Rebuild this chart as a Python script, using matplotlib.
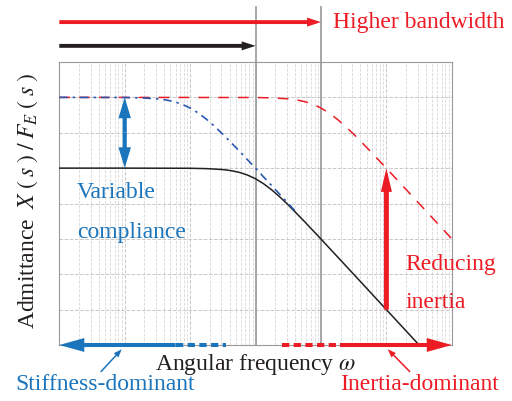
import numpy as np
import matplotlib
matplotlib.use("Agg")
import matplotlib.pyplot as plt

plt.rcParams['font.family'] = ['Liberation Serif', 'DejaVu Serif']
plt.rcParams['mathtext.fontset'] = 'stix'

# ---- data (log10 values) ----
# original system (black)
w_orig = [0, 1, 2, 2.25, 2.5, 2.625, 2.75, 2.875, 3, 3.125, 3.25, 3.375, 3.5, 3.75, 4,
          4.5, 5, 5.5, 5.75]
mag_orig = [-3, -3, -3.004, -3.014, -3.041, -3.071, -3.119, -3.194, -3.301, -3.444, -3.619,
            -3.821, -4.041, -4.513, -5.004, -6.0, -7.0, -8.0, -8.5]
# variable compliance (blue dash-dot)
w_comp = [0, 1, 1.25, 1.5, 1.625, 1.75, 1.875, 2, 2.125, 2.25, 2.375, 2.5, 2.75, 3, 3.25,
          3.5, 3.62]
mag_comp = [-1, -1.004, -1.014, -1.041, -1.071, -1.119, -1.194, -1.301, -1.444, -1.619,
            -1.821, -2.041, -2.513, -3.004, -3.501, -4.0, -4.24]
# reduced inertia (red dashed)
w_inert = [0, 3, 3.25, 3.5, 3.625, 3.75, 3.875, 4, 4.125, 4.25, 4.375, 4.5, 4.75, 5, 5.5, 6]
mag_inert = [-1, -1.004, -1.014, -1.041, -1.071, -1.119, -1.194, -1.301, -1.444,
             -1.619, -1.821, -2.041, -2.513, -3.004, -4.0, -5.0]

bw_orig = 1e3      # bandwidth of original system
bw_high = 1e4      # higher bandwidth
w_arrow_comp = 1e1 # where the compliance arrow sits
w_arrow_inert = 1e5
stiff_dash = [60, 350]     # dashed part of stiffness arrow
inert_dash = [2500, 19500] # dashed part of inertia arrow

RED = '#ed1c24'
BLUE = '#1b75bc'
CURVE_BLUE = '#2a58b0'
GRAY = '#a0a0a0'
BLACK = '#231f20'

fig = plt.figure(figsize=(5.12, 4.01), dpi=100)
ax = fig.add_axes([59.3/512, 1-345/401, 392.5/512, 283/401])
ax.set_xscale('log')
ax.set_yscale('log')
ax.set_xlim(1e0, 1e6)
ax.set_ylim(1e-8, 1e0)

ax.grid(True, which='major', ls='--', color='#c8c8c8', lw=0.7)
ax.grid(True, which='minor', axis='x', ls='--', color='#d8d8d8', lw=0.6)
ax.tick_params(which='both', length=0, labelbottom=False, labelleft=False)
for s in ax.spines.values():
    s.set_color('#999999')
    s.set_linewidth(0.8)

# curves
ax.plot(10**np.array(w_inert), 10**np.array(mag_inert), color=RED, lw=1.1,
        dashes=(7, 6), zorder=3)
ax.plot(10**np.array(w_orig), 10**np.array(mag_orig), color=BLACK, lw=1.1, zorder=3)
ax.plot(10**np.array(w_comp), 10**np.array(mag_comp), color=CURVE_BLUE, lw=1.2,
        dashes=(5, 3, 1.5, 3), zorder=4)

xt = ax.get_xaxis_transform()


def arrow(p0, p1, color, hl, hw, tw, coords='data', z=6):
    # filled arrow from p0 to p1, sizes in points
    ax.annotate('', xy=p1, xytext=p0, xycoords=coords, textcoords=coords,
                arrowprops=dict(arrowstyle='simple,head_length=%g,head_width=%g,tail_width=%g'
                                % (hl, hw, tw), mutation_scale=1, color=color, lw=0,
                                shrinkA=0, shrinkB=0),
                annotation_clip=False, zorder=z)


# bandwidth markers (extend above the axes)
for w in [bw_orig, bw_high]:
    ax.plot([w, w], [0, 1.194], transform=xt, color=GRAY, lw=1.3, clip_on=False, zorder=2)

# top arrows
arrow((1, 1.141), (bw_high, 1.141), RED, 10, 6.5, 2.8, coords=xt)
arrow((1, 1.057), (bw_orig, 1.057), BLACK, 10, 6.5, 2.8, coords=xt)
ax.text(0.697, 1.141, 'Higher bandwidth', transform=ax.transAxes, color=RED,
        fontsize=17, ha='left', va='center')

# variable compliance arrow (two heads)
mid = 10**((mag_orig[0] + mag_comp[0]) / 2)
arrow((w_arrow_comp, mid), (w_arrow_comp, 10**mag_comp[0]), BLUE, 15, 9, 3)
arrow((w_arrow_comp, mid), (w_arrow_comp, 10**mag_orig[0]), BLUE, 15, 9, 3)
ax.text(0.045, 0.518, 'Variable', transform=ax.transAxes, color=BLUE, fontsize=17,
        ha='left', va='baseline')
ax.text(0.045, 0.377, 'compliance', transform=ax.transAxes, color=BLUE, fontsize=17,
        ha='left', va='baseline')

# reducing inertia arrow
arrow((w_arrow_inert, 1e-7), (w_arrow_inert, 10**mag_inert[-3]), RED, 17, 8, 3.6)
ax.text(0.881, 0.265, 'Reducing', transform=ax.transAxes, color=RED, fontsize=17,
        ha='left', va='baseline')
ax.text(0.883, 0.131, 'inertia', transform=ax.transAxes, color=RED, fontsize=17,
        ha='left', va='baseline')

# bottom arrows
arrow((stiff_dash[0], 0), (1, 0), BLUE, 18, 10, 2.9, coords=xt, z=7)
ax.plot(stiff_dash, [0, 0], transform=xt, color=BLUE, lw=2.9, dashes=(1.8, 1.1),
        solid_capstyle='butt', clip_on=False, zorder=6)
arrow((inert_dash[1], 0), (1e6, 0), RED, 18, 10, 2.9, coords=xt, z=7)
ax.plot(inert_dash, [0, 0], transform=xt, color=RED, lw=2.9, dashes=(1.8, 1.1),
        solid_capstyle='butt', clip_on=False, zorder=6)

# pointer arrows + labels
arrow((4.3, -0.095), (9, -0.015), BLUE, 6, 4.5, 1.1, coords=xt)
arrow((2.3e5, -0.095), (1.05e5, -0.015), RED, 6, 4.5, 1.1, coords=xt)
ax.text(-0.113, -0.159, 'Stiffness-dominant', transform=ax.transAxes, color=BLUE,
        fontsize=17, ha='left', va='baseline')
ax.text(0.715, -0.159, 'Inertia-dominant', transform=ax.transAxes, color=RED,
        fontsize=17, ha='left', va='baseline')

# axis labels
ax.text(0.5, -0.088, r'Angular frequency $\omega$', transform=ax.transAxes,
        fontsize=17, ha='center', va='baseline', color=BLACK)
ax.text(-0.08, 0.51, r'Admittance $\;X\;(\;s\;)\;/\;F_E\;(\;s\;)$',
        transform=ax.transAxes, fontsize=17, ha='center', va='center', rotation=90,
        color=BLACK)

fig.savefig('out.png', dpi=100)
